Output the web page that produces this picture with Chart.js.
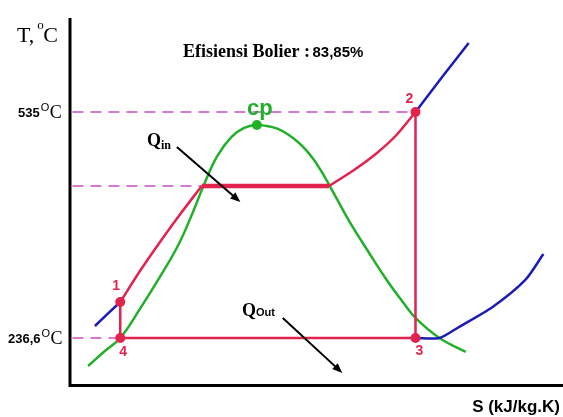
<!DOCTYPE html>
<html>
<head>
<meta charset="utf-8">
<script src="https://cdn.jsdelivr.net/npm/chart.js@4.4.1/dist/chart.umd.min.js"></script>
<style>
  html, body { margin: 0; padding: 0; background: #fff; }
</style>
</head>
<body>
<canvas id="ts" width="563" height="417"></canvas>
<script>
// T-S diagram of the Rankine cycle
// S in kJ/kg.K (schematic), T in °C

// saturation dome (green)
const domeS = [0.37, 0.69, 1.03, 1.42, 1.83, 2.23, 2.52, 2.76, 3.02, 3.31, 3.57, 3.83,
               4.26, 4.67, 4.97, 5.23, 5.48, 5.78, 6.13, 6.49, 6.82, 7.10, 7.57, 8.11];
const domeT = [199.6, 218.1, 236.6, 273.6, 315.8, 360.7, 403.0, 441.3, 476.9, 502.0, 513.9, 517.8,
               512.6, 495.4, 474.3, 447.9, 418.8, 384.5, 348.8, 313.2, 284.1, 261.7, 236.6, 218.1];
const cpS = 3.83, cpT = 517.8;

// cycle states 1..4
const stateNames = ['1', '2', '3', '4'];
const stateS = [1.03, 7.08, 7.08, 1.03];
const stateT = [284.1, 535.0, 236.6, 236.6];

// heating of liquid 1 -> saturated liquid
const heatS = [1.03, 1.42, 1.83, 2.23, 2.70];
const heatT = [284.1, 323.7, 362.0, 397.7, 437.3];
// boiling
const boilS = [2.70, 5.31];
const boilT = [437.3, 437.3];
// superheating -> 2
const superS = [5.31, 5.82, 6.29, 6.69, 7.08];
const superT = [437.3, 458.4, 480.9, 504.6, 535.0];

// isobars outside the cycle (blue)
const liqS = [0.51, 0.77, 1.03];
const liqT = [252.4, 268.3, 284.1];
const lowVapS = [7.08, 7.57, 7.97, 8.66, 9.33, 9.70];
const lowVapT = [236.6, 236.6, 251.1, 277.5, 313.2, 347.5];
const hiVapS = [7.08, 7.61, 8.17];
const hiVapT = [535.0, 579.9, 626.1];

// dashed guide lines
const guideT = [535.0, 437.3, 236.6];
const guideEndS = [7.0, 2.70, 1.03];

// heat arrows [S0, T0, S1, T1]
const qinArrow = [2.19, 488.8, 3.49, 416.2];
const qoutArrow = [4.36, 263.0, 5.58, 190.4];

const RED = '#e2234e', GREEN = '#22b02a', BLUE = '#1c1cb4', PINK = '#d47ad4';

const pts = (xs, ys) => xs.map((x, i) => ({ x: x, y: ys[i] }));

function line(data, color, width, extra) {
  return Object.assign({
    data: data,
    showLine: true,
    borderColor: color,
    backgroundColor: color,
    borderWidth: width,
    pointRadius: 0,
    tension: 0,
    fill: false
  }, extra || {});
}

const datasets = [
  line(pts(stateS, stateT), RED, 0, { showLine: false, pointRadius: 5, order: 0 }),
  line([{ x: cpS, y: cpT }], GREEN, 0, { showLine: false, pointRadius: 5, order: 0 }),
  line(pts([stateS[3], stateS[0]], [stateT[3], stateT[0]]), RED, 2.5, { order: 1 }),
  line(pts(heatS, heatT), RED, 2.5, { tension: 0.3, order: 1 }),
  line(pts(boilS, boilT), RED, 4.5, { order: 1 }),
  line(pts(superS, superT), RED, 2.5, { tension: 0.3, order: 1 }),
  line(pts([stateS[1], stateS[2]], [stateT[1], stateT[2]]), RED, 2.5, { order: 1 }),
  line(pts([stateS[2], stateS[3]], [stateT[2], stateT[3]]), RED, 2.5, { order: 1 }),
  line(pts(liqS, liqT), BLUE, 2.5, { order: 2 }),
  line(pts(lowVapS, lowVapT), BLUE, 2.5, { tension: 0.25, order: 2 }),
  line(pts(hiVapS, hiVapT), BLUE, 2.5, { order: 2 }),
  line(pts(domeS, domeT), GREEN, 2.5, { tension: 0.4, order: 3 })
];
guideT.forEach((t, i) => {
  datasets.push(line(pts([0.05, guideEndS[i]], [t, t]), PINK, 2, { borderDash: [11, 7], order: 4 }));
});

function arrow(ctx, x0, y0, x1, y1) {
  const a = Math.atan2(y1 - y0, x1 - x0);
  ctx.strokeStyle = '#000';
  ctx.fillStyle = '#000';
  ctx.lineWidth = 2;
  ctx.beginPath();
  ctx.moveTo(x0, y0);
  ctx.lineTo(x1 - 6 * Math.cos(a), y1 - 6 * Math.sin(a));
  ctx.stroke();
  ctx.beginPath();
  ctx.moveTo(x1, y1);
  ctx.lineTo(x1 - 10 * Math.cos(a) + 4 * Math.sin(a), y1 - 10 * Math.sin(a) - 4 * Math.cos(a));
  ctx.lineTo(x1 - 10 * Math.cos(a) - 4 * Math.sin(a), y1 - 10 * Math.sin(a) + 4 * Math.cos(a));
  ctx.closePath();
  ctx.fill();
}

function txt(ctx, s, x, y, font, color, align) {
  ctx.font = font;
  ctx.fillStyle = color || '#000';
  ctx.textAlign = align || 'left';
  ctx.textBaseline = 'alphabetic';
  ctx.fillText(s, x, y);
  return ctx.measureText(s).width;
}

const decor = {
  id: 'decor',
  beforeDatasetsDraw(chart) {
    const ctx = chart.ctx, a = chart.chartArea;
    ctx.save();
    ctx.strokeStyle = '#000';
    ctx.lineWidth = 3;
    ctx.beginPath();
    ctx.moveTo(a.left, a.top);
    ctx.lineTo(a.left, a.bottom + 1.5);
    ctx.lineTo(chart.width, a.bottom + 1.5);
    ctx.stroke();
    ctx.restore();
  },
  afterDatasetsDraw(chart) {
    const ctx = chart.ctx, xs = chart.scales.x, ys = chart.scales.y;
    const X = v => xs.getPixelForValue(v), Y = v => ys.getPixelForValue(v);
    ctx.save();

    arrow(ctx, X(qinArrow[0]), Y(qinArrow[1]), X(qinArrow[2]), Y(qinArrow[3]));
    arrow(ctx, X(qoutArrow[0]), Y(qoutArrow[1]), X(qoutArrow[2]), Y(qoutArrow[3]));

    // axis title T
    let w = txt(ctx, 'T,', 17, 42, '22px "Liberation Serif"');
    txt(ctx, 'o', 17 + w + 3, 29, '13px "Liberation Serif"');
    txt(ctx, 'C', 17 + w + 9, 42, '22px "Liberation Serif"');

    // temperature labels
    const tLabels = [['535', guideT[0], 18], ['236,6', guideT[2], 8]];
    tLabels.forEach(l => {
      const y = Y(l[1]) + 5;
      const w1 = txt(ctx, l[0], l[2], y, 'bold 13px "Liberation Sans"');
      txt(ctx, 'O', l[2] + w1 + 1, y - 6, '11px "Liberation Sans"');
      txt(ctx, 'C', l[2] + w1 + 10, y + 1, '18px "Liberation Serif"');
    });

    // title
    w = txt(ctx, 'Efisiensi Bolier : ', 183, 57, 'bold 18px "Liberation Serif"');
    txt(ctx, '83,85%', 183 + w - 2, 57, 'bold 15px "Liberation Sans"');

    // cp
    txt(ctx, 'cp', X(cpS) + 3, Y(cpT) - 10, 'bold 22px "Liberation Sans"', GREEN, 'center');

    // state labels
    const off = [[-4, -12], [-6, -9], [4, 17], [3, 18]];
    stateNames.forEach((n, i) => {
      txt(ctx, n, X(stateS[i]) + off[i][0], Y(stateT[i]) + off[i][1],
        'bold 14px "Liberation Sans"', RED, 'center');
    });

    // Q labels
    w = txt(ctx, 'Q', 147, 146, 'bold 18px "Liberation Serif"');
    txt(ctx, 'in', 147 + w, 149, 'bold 12px "Liberation Serif"');
    w = txt(ctx, 'Q', 242, 316, 'bold 18px "Liberation Serif"');
    txt(ctx, 'Out', 242 + w, 316, 'bold 11px "Liberation Sans"');

    // x axis title
    txt(ctx, 'S (kJ/kg.K)', 560, 412, 'bold 17px "Liberation Sans"', '#000', 'right');

    ctx.restore();
  }
};

new Chart(document.getElementById('ts'), {
  type: 'scatter',
  data: { datasets: datasets },
  options: {
    responsive: false,
    animation: false,
    devicePixelRatio: 1,
    layout: { padding: { left: 70, top: 18, right: 0, bottom: 33 } },
    plugins: { legend: { display: false }, tooltip: { enabled: false } },
    scales: {
      x: { type: 'linear', min: 0, max: 10, display: false },
      y: { type: 'linear', min: 175.8, max: 659.1, display: false }
    }
  },
  plugins: [decor]
});
</script>
</body>
</html>
